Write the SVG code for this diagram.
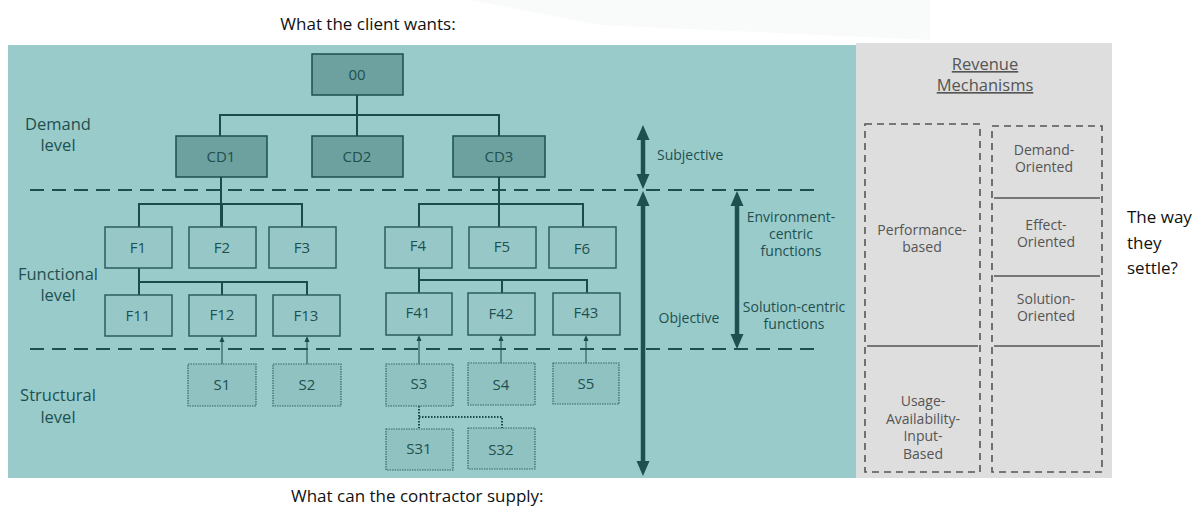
<svg xmlns="http://www.w3.org/2000/svg" width="1197" height="506" viewBox="0 0 1197 506">
<style>
.lbl{font-family:"Open Sans","Noto Sans",sans-serif;font-size:15px;fill:#1E5050;text-anchor:middle}
.lvl{font-family:"Open Sans","Noto Sans",sans-serif;font-size:16.5px;fill:#1E5050;text-anchor:middle}
.side{font-family:"Open Sans","Noto Sans",sans-serif;font-size:14px;fill:#1E5050;text-anchor:middle}
.rev{font-family:"Open Sans","Noto Sans",sans-serif;font-size:14px;fill:#555;text-anchor:middle}
.cap{font-family:"Open Sans","Noto Sans",sans-serif;font-size:17px;fill:#111}
.dark{fill:#6DA19F;stroke:#1E4F4F;stroke-width:1.5}
.fbox{fill:#97C8C7;stroke:#2D5E5E;stroke-width:1.5}
.sbox{fill:#8FC2C1;stroke:#3A6464;stroke-width:1.2;stroke-dasharray:1.5 1}
.conn{fill:none;stroke:#1B4B4B;stroke-width:2}
.thin{fill:none;stroke:#1B4B4B;stroke-width:1}
.dot{fill:none;stroke:#1B4B4B;stroke-width:2;stroke-dasharray:1.5 1.5}
.lvlline{stroke:#1E4F4F;stroke-width:2;stroke-dasharray:14 8}
.big{stroke:#1E5050;stroke-width:4.5}
.head{fill:#1E5050}
.sh{fill:#1B4B4B}
.dbox{fill:none;stroke:#555;stroke-width:1.6;stroke-dasharray:7 5}
.sep{stroke:#555;stroke-width:1.6}
</style>
<rect width="1197" height="506" fill="#ffffff"/>
<polygon points="470,0 930,0 930,40 600,25" fill="#f9fafa"/>
<text class="cap" x="368" y="30" text-anchor="middle">What the client wants:</text>
<rect x="8" y="45" width="848" height="433" fill="#99CBCA"/>
<rect x="856" y="43" width="256" height="435" fill="#DEDEDE"/>
<g id="levels">
<line class="lvlline" x1="30" y1="190" x2="818" y2="190"/>
<line class="lvlline" x1="30" y1="349" x2="818" y2="349"/>
<text class="lvl" x="58" y="130">Demand</text>
<text class="lvl" x="58" y="151">level</text>
<text class="lvl" x="58" y="280">Functional</text>
<text class="lvl" x="58" y="301">level</text>
<text class="lvl" x="58" y="401">Structural</text>
<text class="lvl" x="58" y="423">level</text>
</g>
<g id="connectors">
<path class="conn" d="M357,95 V136 M220,136 V115 H499 V136"/>
<path class="conn" d="M221,177 V227 M139,227 V204 H302 V227 M222,204 V227"/>
<path class="conn" d="M499,177 V227 M419,227 V204 H583 V227"/>
<path class="conn" d="M139,268 V295 M139,282 H307 V295 M222,282 V295"/>
<path class="conn" d="M419,268 V293 M419,280 H587 V293 M502,280 V293"/>
<line class="thin" x1="222" y1="364" x2="222" y2="340"/><polygon class="sh" points="222,336 219.5,342 224.5,342"/>
<line class="thin" x1="307" y1="364" x2="307" y2="340"/><polygon class="sh" points="307,336 304.5,342 309.5,342"/>
<line class="thin" x1="419" y1="364" x2="419" y2="339"/><polygon class="sh" points="419,335 416.5,341 421.5,341"/>
<line class="thin" x1="501" y1="363" x2="501" y2="339"/><polygon class="sh" points="501,335 498.5,341 503.5,341"/>
<line class="thin" x1="586" y1="363" x2="586" y2="339"/><polygon class="sh" points="586,335 583.5,341 588.5,341"/>
<path class="dot" d="M419,406 V428 M419,417 H502 V428"/>
</g>
<g id="n00"><rect class="dark" x="312" y="54" width="91" height="41"/><text class="lbl" x="357" y="80">00</text></g>
<g id="nCD1"><rect class="dark" x="176" y="136" width="91" height="41"/><text class="lbl" x="221" y="162">CD1</text></g>
<g id="nCD2"><rect class="dark" x="312" y="136" width="91" height="41"/><text class="lbl" x="357" y="162">CD2</text></g>
<g id="nCD3"><rect class="dark" x="453" y="136" width="92" height="41"/><text class="lbl" x="499" y="162">CD3</text></g>
<g id="nF1"><rect class="fbox" x="105" y="227" width="67" height="41"/><text class="lbl" x="138" y="253">F1</text></g>
<g id="nF2"><rect class="fbox" x="189" y="227" width="67" height="41"/><text class="lbl" x="222" y="253">F2</text></g>
<g id="nF3"><rect class="fbox" x="269" y="227" width="67" height="41"/><text class="lbl" x="302" y="253">F3</text></g>
<g id="nF4"><rect class="fbox" x="385" y="227" width="67" height="41"/><text class="lbl" x="418" y="251">F4</text></g>
<g id="nF5"><rect class="fbox" x="469" y="227" width="67" height="41"/><text class="lbl" x="502" y="252">F5</text></g>
<g id="nF6"><rect class="fbox" x="549" y="227" width="67" height="41"/><text class="lbl" x="582" y="254">F6</text></g>
<g id="nF11"><rect class="fbox" x="105" y="295" width="67" height="41"/><text class="lbl" x="138" y="321">F11</text></g>
<g id="nF12"><rect class="fbox" x="189" y="295" width="67" height="41"/><text class="lbl" x="222" y="320">F12</text></g>
<g id="nF13"><rect class="fbox" x="273" y="295" width="67" height="41"/><text class="lbl" x="306" y="321">F13</text></g>
<g id="nF41"><rect class="fbox" x="386" y="293" width="66" height="42"/><text class="lbl" x="418" y="318">F41</text></g>
<g id="nF42"><rect class="fbox" x="468" y="293" width="67" height="42"/><text class="lbl" x="501" y="319">F42</text></g>
<g id="nF43"><rect class="fbox" x="553" y="293" width="67" height="42"/><text class="lbl" x="586" y="318">F43</text></g>
<g id="nS1"><rect class="sbox" x="188" y="364" width="68" height="42"/><text class="lbl" x="222" y="390">S1</text></g>
<g id="nS2"><rect class="sbox" x="273" y="364" width="68" height="42"/><text class="lbl" x="307" y="390">S2</text></g>
<g id="nS3"><rect class="sbox" x="386" y="364" width="67" height="42"/><text class="lbl" x="419" y="389">S3</text></g>
<g id="nS4"><rect class="sbox" x="468" y="363" width="67" height="42"/><text class="lbl" x="501" y="390">S4</text></g>
<g id="nS5"><rect class="sbox" x="553" y="363" width="66" height="41"/><text class="lbl" x="586" y="389">S5</text></g>
<g id="nS31"><rect class="sbox" x="386" y="429" width="67" height="41"/><text class="lbl" x="419" y="454">S31</text></g>
<g id="nS32"><rect class="sbox" x="468" y="428" width="67" height="41"/><text class="lbl" x="501" y="455">S32</text></g>
<g id="scales">
<line class="big" x1="643" y1="138" x2="643" y2="176"/>
<polygon class="head" points="643,125 636.5,140 649.5,140"/>
<polygon class="head" points="643,189 636.5,174 649.5,174"/>
<line class="big" x1="643" y1="203" x2="643" y2="464"/>
<polygon class="head" points="643,191 636.5,206 649.5,206"/>
<polygon class="head" points="643,476 636.5,461 649.5,461"/>
<line class="big" x1="737" y1="203" x2="737" y2="338"/>
<polygon class="head" points="737,191 730.5,206 743.5,206"/>
<polygon class="head" points="737,349 730.5,334 743.5,334"/>
<text class="side" x="657" y="160" style="text-anchor:start">Subjective</text>
<text class="side" x="689" y="323">Objective</text>
<text class="side" x="791" y="222">Environment-</text>
<text class="side" x="791" y="239">centric</text>
<text class="side" x="791" y="256">functions</text>
<text class="side" x="794" y="312">Solution-centric</text>
<text class="side" x="794" y="329">functions</text>
</g>
<g id="revenue">
<text class="lvl" x="985" y="70" style="fill:#555;text-decoration:underline">Revenue</text>
<text class="lvl" x="985" y="91" style="fill:#555;text-decoration:underline">Mechanisms</text>
<rect class="dbox" x="865" y="124" width="115" height="348"/>
<rect class="dbox" x="992" y="126" width="110" height="346"/>
<line class="sep" x1="867" y1="346" x2="978" y2="346"/>
<line class="sep" x1="994" y1="198" x2="1100" y2="198"/>
<line class="sep" x1="994" y1="276" x2="1100" y2="276"/>
<line class="sep" x1="994" y1="346" x2="1100" y2="346"/>
<text class="rev" x="1044" y="155">Demand-</text>
<text class="rev" x="1044" y="172">Oriented</text>
<text class="rev" x="1046" y="230">Effect-</text>
<text class="rev" x="1046" y="247">Oriented</text>
<text class="rev" x="1046" y="304">Solution-</text>
<text class="rev" x="1046" y="321">Oriented</text>
<text class="rev" x="922" y="235">Performance-</text>
<text class="rev" x="922" y="252">based</text>
<text class="rev" x="923" y="406">Usage-</text>
<text class="rev" x="923" y="424">Availability-</text>
<text class="rev" x="923" y="441">Input-</text>
<text class="rev" x="923" y="459">Based</text>
</g>
<text class="cap" x="1127" y="223">The way</text>
<text class="cap" x="1127" y="249">they</text>
<text class="cap" x="1127" y="274">settle?</text>
<text class="cap" x="291" y="502">What can the contractor supply:</text>
</svg>
